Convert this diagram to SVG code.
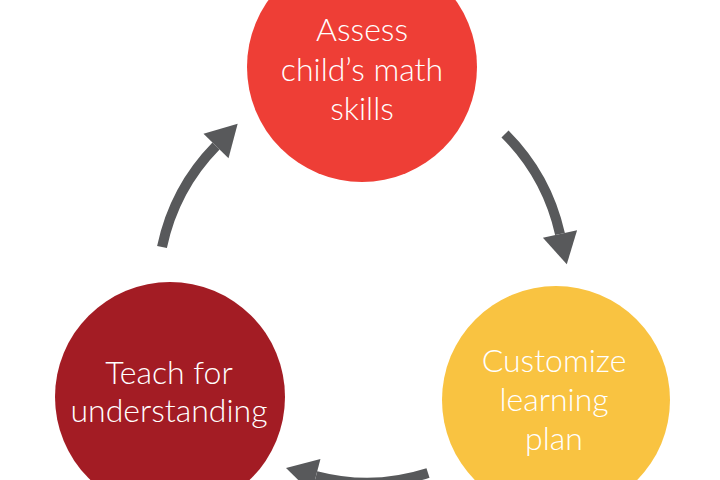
<svg xmlns="http://www.w3.org/2000/svg" width="720" height="480" viewBox="0 0 720 480">
  <style>
    .lbl { font-family: Lato, "Open Sans", "Liberation Sans", sans-serif; font-weight: 300; font-size: 32px; fill: #ffffff; text-anchor: middle; }
    .arrow { fill: none; stroke: #58595B; stroke-width: 10; marker-end: url(#head); }
  </style>
  <defs>
    <marker id="head" markerUnits="strokeWidth" markerWidth="4" markerHeight="4" refX="0" refY="0" viewBox="0 -2 4 4" orient="auto" overflow="visible">
      <path d="M0,-1.75 L3.1,0 L0,1.75 z" fill="#58595B"/>
    </marker>
  </defs>
  <rect width="720" height="480" fill="#ffffff"/>
  <g id="connectors">
    <path class="arrow" d="M162,247 A205,205 0 0 1 216,146"/>
    <path class="arrow" d="M505,134 A205,205 0 0 1 560,234"/>
    <path class="arrow" d="M428,473 A200,200 0 0 1 316,476"/>
  </g>
  <g id="assess">
    <circle cx="362" cy="67" r="115" fill="#EE3E36"/>
    <text class="lbl" x="362" y="41">Assess</text>
    <text class="lbl" x="362" y="81">child’s math</text>
    <text class="lbl" x="362" y="120">skills</text>
  </g>
  <g id="customize">
    <circle cx="556" cy="400" r="114" fill="#F9C341"/>
    <text class="lbl" x="554" y="372">Customize</text>
    <text class="lbl" x="554" y="411">learning</text>
    <text class="lbl" x="554" y="450">plan</text>
  </g>
  <g id="teach">
    <circle cx="170" cy="397" r="115" fill="#A31C24"/>
    <text class="lbl" x="169" y="384">Teach for</text>
    <text class="lbl" x="169" y="422">understanding</text>
  </g>
</svg>
